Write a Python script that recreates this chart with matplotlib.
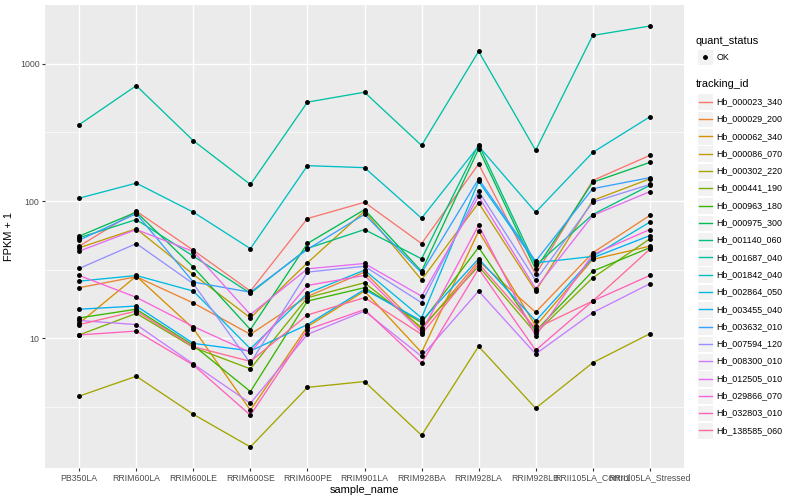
import numpy as np
import matplotlib
matplotlib.use("Agg")
import matplotlib.pyplot as plt
from matplotlib.patches import Rectangle

samples = ["PB350LA", "RRIM600LA", "RRIM600LE", "RRIM600SE", "RRIM600PE", "RRIM901LA",
           "RRIM928BA", "RRIM928LA", "RRIM928LB", "RRII105LA_Control", "RRII105LA_Stressed"]

tracking_ids = ["Hb_000023_340", "Hb_000029_200", "Hb_000062_340", "Hb_000086_070", "Hb_000302_220",
                "Hb_000441_190", "Hb_000963_180", "Hb_000975_300", "Hb_001140_060", "Hb_001687_040",
                "Hb_001842_040", "Hb_002864_050", "Hb_003455_040", "Hb_003632_010", "Hb_007594_120",
                "Hb_008300_010", "Hb_012505_010", "Hb_029866_070", "Hb_032803_010", "Hb_138585_060"]

# FPKM + 1, one row per tracking_id, one column per sample
fpkm = [
    [46.9, 84.4, 43.8, 22.1, 74.6, 97.9, 49.0, 186, 29.2, 141, 215],
    [23.4, 28.1, 18.1, 10.7, 20.2, 30.4, 11.6, 36.6, 15.5, 42.0, 78.5],
    [12.9, 28.4, 11.8, 3.0, 12.2, 22.1, 7.9, 60.3, 12.3, 37.6, 46.9],
    [45.7, 62.8, 29.2, 14.1, 35.5, 84.4, 26.7, 97, 22.1, 101, 145],
    [3.8, 5.3, 2.8, 1.62, 4.4, 4.85, 1.97, 8.75, 3.1, 6.65, 10.8],
    [10.6, 15.2, 8.6, 6.0, 19.8, 25.4, 12.0, 33.5, 10.9, 27.6, 53.0],
    [14.1, 16.3, 8.9, 4.1, 18.7, 23.4, 13.0, 46.0, 11.3, 30.9, 45.7],
    [55.5, 83.0, 33.0, 11.6, 49.1, 86.6, 30.8, 240, 31.8, 137, 191],
    [54.0, 73.3, 39.7, 21.3, 45.2, 62.0, 38.0, 258, 34.0, 79.8, 130],
    [360, 692, 275, 132, 525, 620, 254, 1229, 234, 1606, 1880],
    [105, 135, 83, 45, 181, 175, 75, 251, 83, 226, 410],
    [26.1, 28.7, 22.1, 8.4, 21.3, 31.4, 14.1, 139, 35.5, 39.5, 70.2],
    [16.3, 17.2, 9.2, 8.1, 12.6, 22.7, 13.4, 38.0, 13.4, 38.6, 56.0],
    [51.9, 81.0, 25.7, 21.7, 44.5, 80.0, 30.0, 145, 36.5, 123, 148],
    [32.3, 49.0, 25.0, 6.6, 30.4, 33.5, 18.2, 118, 26.5, 98, 132],
    [13.5, 12.6, 6.5, 3.37, 10.7, 15.8, 7.4, 22.1, 7.7, 15.4, 25.0],
    [43.2, 62.0, 42.9, 14.9, 32.1, 35.1, 20.3, 108, 23.0, 78.5, 117],
    [28.7, 19.9, 12.2, 7.9, 24.3, 28.7, 11.1, 66.7, 10.4, 40.8, 62.0],
    [10.6, 11.3, 6.4, 2.76, 11.6, 16.2, 6.6, 32.1, 8.2, 18.7, 28.7],
    [12.6, 15.8, 8.7, 6.8, 14.8, 19.8, 10.7, 35.1, 11.8, 18.7, 44.5],
]


def hcl(h, c=100.0, l=65.0):
    # ggplot2 hue_pal colours (polar Luv -> sRGB)
    hr = np.deg2rad(h)
    u, v = c * np.cos(hr), c * np.sin(hr)
    Xn, Yn, Zn = 95.047, 100.0, 108.883
    Y = Yn * ((l + 16) / 116) ** 3
    d = Xn + 15 * Yn + 3 * Zn
    up = u / (13 * l) + 4 * Xn / d
    vp = v / (13 * l) + 9 * Yn / d
    X = Y * 9 * up / (4 * vp)
    Z = Y * (12 - 3 * up - 20 * vp) / (4 * vp)
    M = np.array([[3.2404542, -1.5371385, -0.4985314],
                  [-0.9692660, 1.8760108, 0.0415560],
                  [0.0556434, -0.2040259, 1.0572252]])
    rgb = np.clip(M @ (np.array([X, Y, Z]) / 100), 0, 1)
    rgb = np.where(rgb <= 0.0031308, 12.92 * rgb, 1.055 * rgb ** (1 / 2.4) - 0.055)
    return tuple(np.clip(rgb, 0, 1))


n = len(tracking_ids)
colors = [hcl(15 + i * 360 / n) for i in range(n)]

plt.rcParams['font.family'] = ['Liberation Sans', 'DejaVu Sans']

fig = plt.figure(figsize=(8, 5), dpi=100)
ax = fig.add_axes([45 / 800, 1 - 468 / 500, (684 - 45) / 800, (468 - 5) / 500])
ax.set_facecolor("#EBEBEB")

x = np.arange(len(samples))
for i in range(n):
    ax.plot(x, fpkm[i], color=colors[i], lw=0.95, zorder=3)
for i in range(n):
    ax.plot(x, fpkm[i], 'o', color="black", ms=2.5, mec="black", zorder=4)

ax.set_yscale("log")
lo, hi = np.log10(1.62), np.log10(1880)
pad = (hi - lo) * 0.05
ax.set_ylim(10 ** (lo - pad), 10 ** (hi + pad))
ax.set_xlim(-0.6, len(samples) - 0.4)

ax.set_yticks([10, 100, 1000])
ax.set_yticklabels(["10", "100", "1000"])
ax.set_yticks([10 ** 0.5, 10 ** 1.5, 10 ** 2.5], minor=True)
ax.yaxis.set_minor_formatter(matplotlib.ticker.NullFormatter())
ax.set_xticks(x)
ax.set_xticklabels(samples)

ax.grid(True, which="major", color="white", lw=1.0, zorder=0)
ax.grid(True, which="minor", axis="y", color="white", lw=0.5, zorder=0)
ax.set_axisbelow(True)
for s in ax.spines.values():
    s.set_visible(False)
ax.tick_params(axis="both", which="major", length=2.5, width=0.8, color="#333333",
               labelsize=6.3, labelcolor="#4D4D4D", pad=1.5)
ax.tick_params(axis="y", which="minor", length=0)

ax.set_xlabel("sample_name", fontsize=7.9, labelpad=2)
ax.set_ylabel("FPKM + 1", fontsize=7.9, labelpad=4)

# legend, drawn in pixel coordinates on an overlay
lg = fig.add_axes([0, 0, 1, 1], zorder=10)
lg.set_xlim(0, 800)
lg.set_ylim(500, 0)
lg.axis("off")

lg.text(696, 41, "quant_status", fontsize=7.9, va="center", ha="left")
lg.add_patch(Rectangle((697, 49), 16, 16, facecolor="#F2F2F2", edgecolor="white", lw=0.8))
lg.plot([705], [57], 'o', color="black", ms=2.5)
lg.text(716.5, 57, "OK", fontsize=6.4, va="center", ha="left")

lg.text(696, 84, "tracking_id", fontsize=7.9, va="center", ha="left")
for i, name in enumerate(tracking_ids):
    cy = 101.7 + i * 17.3
    lg.add_patch(Rectangle((697, cy - 8.3), 16, 16.6, facecolor="#F2F2F2", edgecolor="white", lw=0.8))
    lg.plot([698.5, 711.5], [cy, cy], color=colors[i], lw=1.0)
    lg.text(716.5, cy, name, fontsize=6.4, va="center", ha="left")

fig.savefig("out.png", dpi=100)
